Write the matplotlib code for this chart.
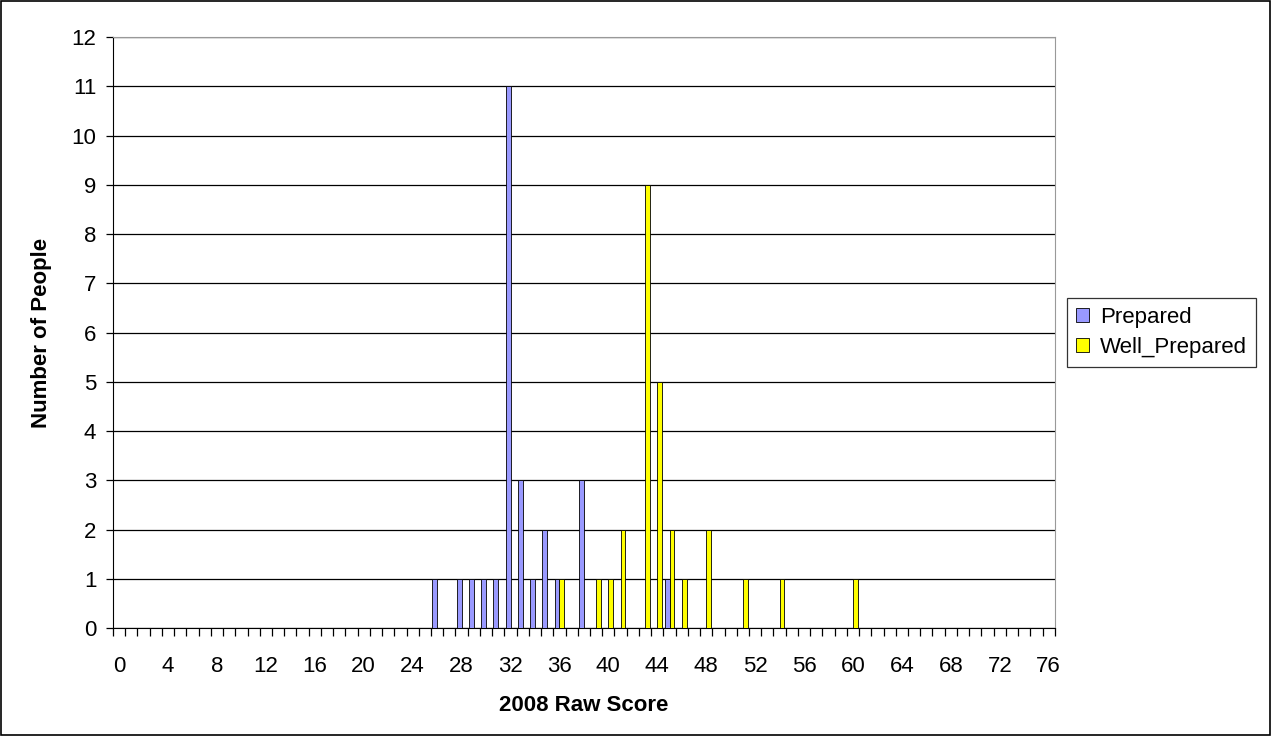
import numpy as np
import matplotlib.pyplot as plt
from matplotlib.patches import Rectangle

plt.rcParams['font.family'] = ['Liberation Sans', 'DejaVu Sans']

# raw scores 0..76, counts per score
scores = list(range(0, 77))
prepared_scores = [26, 28, 29, 30, 31, 32, 33, 34, 35, 36, 38, 45]
prepared_counts = [1, 1, 1, 1, 1, 11, 3, 1, 2, 1, 3, 1]
well_scores = [36, 39, 40, 41, 43, 44, 45, 46, 48, 51, 54, 60]
well_counts = [1, 1, 1, 2, 9, 5, 2, 1, 2, 1, 1, 1]

prepared = np.zeros(len(scores))
well = np.zeros(len(scores))
for s, c in zip(prepared_scores, prepared_counts):
    prepared[s] = c
for s, c in zip(well_scores, well_counts):
    well[s] = c

fs = 16

fig = plt.figure(figsize=(12.71, 7.36), dpi=100)
ax = fig.add_axes([0.0889, 0.1467, 0.741, 0.803])

x = np.arange(len(scores))
w = 0.4
ax.bar(x - w / 2, prepared, w, color='#9999FF', edgecolor='black', linewidth=0.6,
       label='Prepared', zorder=3)
ax.bar(x + w / 2, well, w, color='#FFFF00', edgecolor='black', linewidth=0.6,
       label='Well_Prepared', zorder=3)

ax.set_xlim(-0.5, 76.5)
ax.set_ylim(0, 12)
ax.set_yticks(range(0, 13))
ax.yaxis.grid(True, color='black', linewidth=0.9, zorder=0)

ax.set_xticks(x[::4])
ax.set_xticklabels([str(s) for s in scores[::4]])
ax.set_xticks(np.arange(-0.5, 77, 1), minor=True)
ax.tick_params(axis='x', which='major', length=0, pad=20, labelsize=fs)
ax.tick_params(axis='x', which='minor', length=6, direction='out', width=0.9)
ax.tick_params(axis='y', length=5, direction='out', labelsize=fs, width=0.9, pad=7)

for side in ['top', 'right']:
    ax.spines[side].set_color('#999999')
for side in ['left', 'bottom']:
    ax.spines[side].set_color('black')

ax.set_xlabel('2008 Raw Score', fontsize=fs, fontweight='bold', labelpad=13)
ax.set_ylabel('Number of People', fontsize=fs, fontweight='bold', labelpad=14)

leg = ax.legend(loc='center left', bbox_to_anchor=(1.013, 0.5), frameon=True,
                fancybox=False, edgecolor='black', fontsize=fs,
                handlelength=0.6, handleheight=0.6, handletextpad=0.5,
                borderpad=0.4, labelspacing=0.4, borderaxespad=0)
leg.get_frame().set_linewidth(0.9)

fig.patches.append(Rectangle((0.001, 0.001), 0.998, 0.998, transform=fig.transFigure,
                             fill=False, edgecolor='black', linewidth=1.2))

fig.savefig('out.png', dpi=100)
